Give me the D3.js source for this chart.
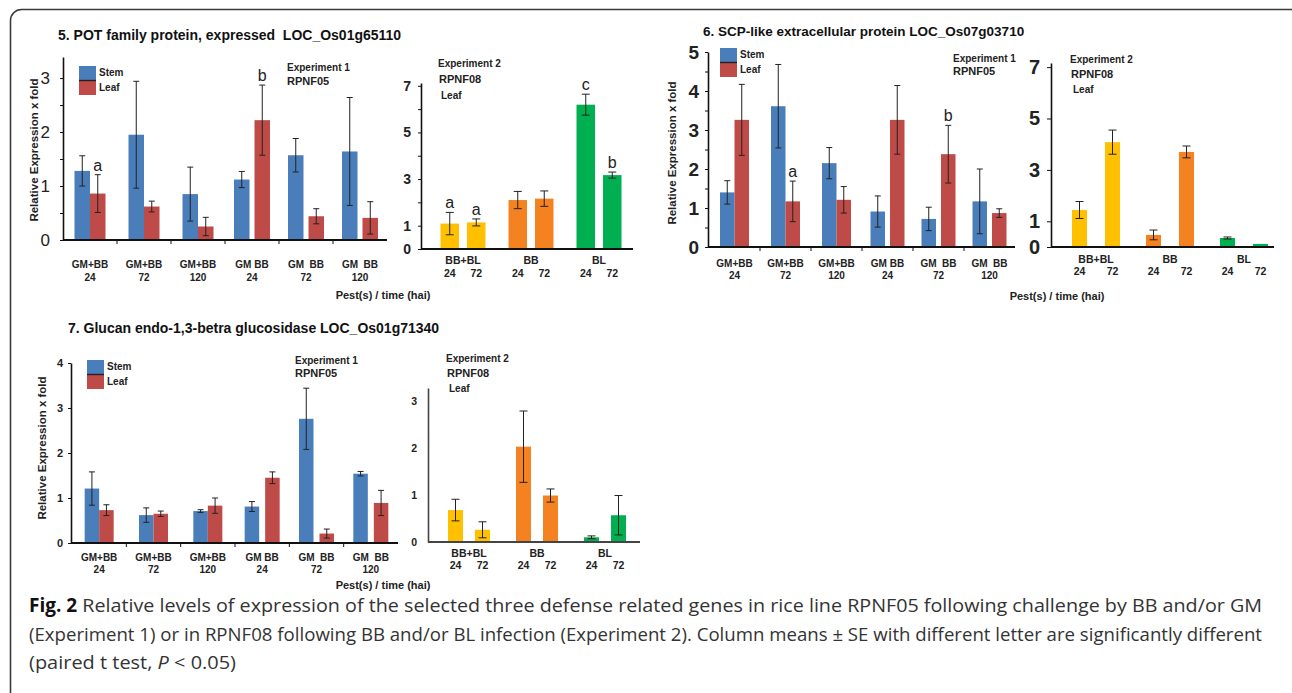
<!DOCTYPE html>
<html>
<head>
<meta charset="utf-8">
<script src="https://cdn.jsdelivr.net/npm/d3@7"></script>
<style>
  body { margin: 0; background: #fff; }
  svg text { font-family: "Liberation Sans", Arial, sans-serif; white-space: pre; }
</style>
</head>
<body>
<svg id="fig" width="1292" height="693"></svg>
<script>
// ---- categories ----
const tissues = ["Stem", "Leaf"];
const exp1Pests = ["GM+BB", "GM+BB", "GM+BB", "GM BB", "GM  BB", "GM  BB"];
const exp1Times = ["24", "72", "120", "24", "72", "120"];
const exp2Pests = ["BB+BL", "BB", "BL"];
const exp2Times = ["24", "72"];

// ---- 5. POT family protein ----
const potStem = [1.28, 1.95, 0.85, 1.12, 1.57, 1.64];
const potStemSE = [0.28, 0.99, 0.50, 0.15, 0.31, 1.00];
const potLeaf = [0.86, 0.62, 0.25, 2.22, 0.44, 0.41];
const potLeafSE = [0.35, 0.10, 0.17, 0.65, 0.14, 0.30];
const potLetters = ["a", "", "", "b", "", ""];
const potExp2 = [[1.09, 1.14], [2.10, 2.16], [6.19, 3.17]];
const potExp2SE = [[0.48, 0.15], [0.37, 0.33], [0.45, 0.13]];
const potExp2Letters = [["a", "a"], ["", ""], ["c", "b"]];

// ---- 6. SCP-like extracellular protein ----
const scpStem = [1.40, 3.61, 2.15, 0.91, 0.72, 1.17];
const scpStemSE = [0.30, 1.07, 0.40, 0.40, 0.30, 0.83];
const scpLeaf = [3.26, 1.17, 1.21, 3.26, 2.38, 0.87];
const scpLeafSE = [0.91, 0.52, 0.34, 0.88, 0.74, 0.11];
const scpLetters = ["", "a", "", "", "b", ""];
const scpExp2 = [[1.44, 4.08], [0.47, 3.70], [0.35, 0.12]];
const scpExp2SE = [[0.33, 0.47], [0.19, 0.23], [0.04, 0]];

// ---- 7. Glucan endo-1,3-beta glucosidase ----
const gluStem = [1.21, 0.62, 0.71, 0.81, 2.76, 1.54];
const gluStemSE = [0.37, 0.16, 0.03, 0.11, 0.68, 0.05];
const gluLeaf = [0.73, 0.65, 0.83, 1.45, 0.21, 0.89];
const gluLeafSE = [0.12, 0.06, 0.17, 0.13, 0.10, 0.28];
const gluExp2 = [[0.68, 0.26], [2.03, 0.99], [0.10, 0.57]];
const gluExp2SE = [[0.23, 0.17], [0.76, 0.14], [0.03, 0.42]];

const tissueColor = {Stem: "#4a7ebb", Leaf: "#be4b48"};
const pestColor = ["#ffc000", "#f58220", "#00b050"];

const svg = d3.select("#fig");

// box round the figure
svg.append("rect")
    .attr("x", 10.5).attr("y", 9.5)
    .attr("width", 1300).attr("height", 700)
    .attr("rx", 11)
    .attr("fill", "none").attr("stroke", "#3a3a3a").attr("stroke-width", 1.6);

function yAxis(g, y, c) {
    const ax = g.append("g")
        .attr("transform", `translate(${c.axisX},0)`)
        .call(d3.axisLeft(y).tickValues(c.ticks).tickSize(c.tickLen).tickSizeOuter(0)
            .tickPadding(c.tickPad).tickFormat(d3.format("d")));
    ax.select(".domain").attr("stroke", c.axisColor || "#111").attr("stroke-width", 1.6);
    ax.selectAll(".tick line").attr("stroke", "#111");
    ax.selectAll("text")
        .attr("font-size", c.tickFont).attr("font-weight", c.tickWeight || "bold")
        .attr("fill", "#222").attr("font-family", "Liberation Sans, Arial, sans-serif");
    if (c.minor) {
        g.append("g")
            .attr("transform", `translate(${c.axisX},0)`)
            .call(d3.axisLeft(y).tickValues(c.minor).tickSize(c.tickLen).tickFormat(""))
            .call(s => s.select(".domain").remove())
            .selectAll("line").attr("stroke", "#111");
    }
}

function errorBars(g, bars, y, cap) {
    const eb = g.append("g").attr("stroke", "#222").attr("stroke-width", 1);
    bars.filter(d => d.se > 0).forEach(d => {
        const cx = d.x + d.w / 2;
        eb.append("line").attr("x1", cx).attr("x2", cx).attr("y1", y(d.v + d.se)).attr("y2", y(d.v - d.se));
        [d.v + d.se, d.v - d.se].forEach(v => {
            eb.append("line").attr("x1", cx - cap).attr("x2", cx + cap).attr("y1", y(v)).attr("y2", y(v));
        });
    });
    g.selectAll(".letter")
        .data(bars.filter(d => d.letter))
        .join("text")
        .attr("x", d => d.x + d.w / 2)
        .attr("y", d => y(d.v + d.se) - 4)
        .attr("text-anchor", "middle")
        .attr("font-size", 16)
        .attr("fill", "#222")
        .text(d => d.letter);
}

function drawExp1(c, stem, stemSE, leaf, leafSE, letters) {
    const g = svg.append("g");
    const idx = d3.range(exp1Pests.length);
    const x = d3.scaleBand().domain(idx).range(c.xRange);
    const y = d3.scaleLinear().domain([0, c.yMax]).range([c.base, c.top]);

    const bars = [];
    idx.forEach(i => {
        const cx = x(i) + x.bandwidth() / 2;
        const gap = exp1Pests[i].includes("+") ? 0 : c.gap;
        bars.push({t: "Stem", v: stem[i], se: stemSE[i], x: cx - gap / 2 - c.bw, w: c.bw, letter: ""});
        bars.push({t: "Leaf", v: leaf[i], se: leafSE[i], x: cx + gap / 2, w: c.bw, letter: letters ? letters[i] : ""});
    });

    g.selectAll("rect.bar")
        .data(bars)
        .join("rect")
        .attr("class", "bar")
        .attr("x", d => d.x).attr("width", d => d.w)
        .attr("y", d => y(d.v)).attr("height", d => y(0) - y(d.v))
        .attr("fill", d => tissueColor[d.t]);

    errorBars(g, bars, y, c.cap);
    yAxis(g, y, c);

    // x baseline with group separators
    g.append("line").attr("x1", c.axisX).attr("x2", c.xRange[1])
        .attr("y1", c.base).attr("y2", c.base).attr("stroke", "#111").attr("stroke-width", 1.8);
    g.selectAll(".sep").data(idx.slice(1)).join("line")
        .attr("x1", d => x(d)).attr("x2", d => x(d))
        .attr("y1", c.base).attr("y2", c.base + 4).attr("stroke", "#111");

    const lab = g.append("g").attr("font-size", 10).attr("font-weight", "bold")
        .attr("fill", "#222").attr("text-anchor", "middle");
    idx.forEach(i => {
        const cx = x(i) + x.bandwidth() / 2;
        lab.append("text").attr("x", cx).attr("y", c.base + c.labDy[0]).text(exp1Pests[i]);
        lab.append("text").attr("x", cx).attr("y", c.base + c.labDy[1]).text(exp1Times[i]);
    });

    // legend
    const lg = g.append("g").attr("transform", `translate(${c.legend[0]},${c.legend[1]})`);
    tissues.forEach((t, i) => {
        lg.append("rect").attr("x", 0).attr("y", i * 15).attr("width", 17).attr("height", 14).attr("fill", tissueColor[t]);
        lg.append("text").attr("x", 20).attr("y", i * 15 + 10).attr("font-size", 10)
            .attr("font-weight", "bold").attr("fill", "#222").text(t);
    });
    lg.append("line").attr("x1", 0).attr("x2", 17).attr("y1", 14.5).attr("y2", 14.5)
        .attr("stroke", "#222").attr("stroke-width", 1.4);

    const ex = g.append("g").attr("font-weight", "bold").attr("fill", "#222");
    ex.append("text").attr("x", c.exp[0]).attr("y", c.exp[1]).attr("font-size", 10).text("Experiment 1");
    ex.append("text").attr("x", c.exp[0]).attr("y", c.exp[1] + c.exp[2]).attr("font-size", 11).text("RPNF05");
}

function drawExp2(c, vals, ses, letters) {
    const g = svg.append("g");
    const x = d3.scaleBand().domain(d3.range(exp2Pests.length)).range(c.xRange);
    const y = d3.scaleLinear().domain([0, c.yMax]).range([c.base, c.top]);

    const bars = [];
    exp2Pests.forEach((p, i) => {
        const cx = x(i) + x.bandwidth() / 2;
        exp2Times.forEach((t, j) => {
            const bx = j === 0 ? cx - c.gap / 2 - c.bw : cx + c.gap / 2;
            bars.push({g: i, t: t, v: vals[i][j], se: ses[i][j], x: bx, w: c.bw,
                letter: letters ? letters[i][j] : ""});
        });
    });

    g.selectAll("rect.bar")
        .data(bars)
        .join("rect")
        .attr("class", "bar")
        .attr("x", d => d.x).attr("width", d => d.w)
        .attr("y", d => y(d.v)).attr("height", d => y(0) - y(d.v))
        .attr("fill", d => pestColor[d.g]);

    errorBars(g, bars, y, c.cap);
    yAxis(g, y, c);

    g.append("line").attr("x1", c.axisX).attr("x2", c.xEnd)
        .attr("y1", c.base).attr("y2", c.base).attr("stroke", c.axisColor || "#111").attr("stroke-width", 1.8);

    const lab = g.append("g").attr("font-size", 10.5).attr("font-weight", "bold")
        .attr("fill", "#222").attr("text-anchor", "middle");
    exp2Pests.forEach((p, i) => {
        lab.append("text").attr("x", x(i) + x.bandwidth() / 2).attr("y", c.base + c.labDy[0]).text(p);
    });
    lab.selectAll(".time").data(bars).join("text")
        .attr("x", d => d.x + d.w / 2).attr("y", c.base + c.labDy[1]).text(d => d.t);

    const ex = g.append("g").attr("font-weight", "bold").attr("fill", "#222");
    ex.append("text").attr("x", c.exp[0]).attr("y", c.exp[1]).attr("font-size", 10).text("Experiment 2");
    ex.append("text").attr("x", c.exp[0] + 1).attr("y", c.exp[1] + c.exp[2]).attr("font-size", 11).text("RPNF08");
    ex.append("text").attr("x", c.exp[0] + 3).attr("y", c.exp[1] + 2 * c.exp[2]).attr("font-size", 10).text("Leaf");
}

function titles(t, x, y, size) {
    svg.append("text").attr("x", x).attr("y", y).attr("font-size", size).attr("font-weight", "bold")
        .attr("fill", "#111").text(t);
}
function yLabel(x, y) {
    svg.append("text").attr("transform", `translate(${x},${y}) rotate(-90)`)
        .attr("text-anchor", "middle").attr("font-size", 11.5).attr("font-weight", "bold")
        .attr("fill", "#222").text("Relative Expression x fold");
}
function xTitle(x, y) {
    svg.append("text").attr("x", x).attr("y", y).attr("text-anchor", "middle")
        .attr("font-size", 11).attr("font-weight", "bold").attr("fill", "#222").text("Pest(s) / time (hai)");
}

// ---- panel 5 ----
titles("5. POT family protein, expressed  LOC_Os01g65110", 58, 40, 14);
yLabel(38, 150);
xTitle(383, 299);
drawExp1({xRange: [63, 387], axisX: 63, base: 240, top: 57, yMax: 3.39, ticks: [0, 1, 2, 3],
    minor: [0.5, 1.5, 2.5], tickLen: 3, tickPad: 10, tickFont: 17, tickWeight: "normal",
    bw: 15.5, gap: 5, cap: 3, labDy: [28, 41], legend: [79, 66], exp: [287, 71, 14]},
    potStem, potStemSE, potLeaf, potLeafSE, potLetters);
drawExp2({xRange: [429, 633], xEnd: 633, axisX: 421, base: 249, top: 83, yMax: 7.12,
    ticks: [0, 1, 3, 5, 7], minor: [2, 4, 6], tickLen: 3, tickPad: 7, tickFont: 14,
    bw: 18.5, gap: 8, cap: 4, labDy: [15, 28], exp: [438, 67, 16]},
    potExp2, potExp2SE, potExp2Letters);

// ---- panel 6 ----
titles("6. SCP-like extracellular protein LOC_Os07g03710", 703, 36, 13.5);
yLabel(676, 153);
xTitle(1057, 300);
drawExp1({xRange: [709, 1015], axisX: 708, base: 247, top: 52, yMax: 5, ticks: [0, 1, 2, 3, 4, 5],
    minor: [0.5, 1.5, 2.5, 3.5, 4.5], tickLen: 3, tickPad: 6, tickFont: 19,
    bw: 14.5, gap: 5, cap: 3, labDy: [20, 32], legend: [720, 48], exp: [953, 62, 13]},
    scpStem, scpStemSE, scpLeaf, scpLeafSE, scpLetters);
drawExp2({xRange: [1059, 1281], xEnd: 1274, axisX: 1051, base: 247, top: 63, yMax: 7.16,
    ticks: [0, 1, 3, 5, 7], tickLen: 4, tickPad: 7, tickFont: 20,
    bw: 15, gap: 18, cap: 4, labDy: [16, 28], exp: [1070, 63, 15]},
    scpExp2, scpExp2SE, null);

// ---- panel 7 ----
titles("7. Glucan endo-1,3-betra glucosidase LOC_Os01g71340", 68, 333, 14);
yLabel(46, 448);
xTitle(383, 589);
drawExp1({xRange: [72, 398], axisX: 71, base: 543, top: 363, yMax: 4, ticks: [0, 1, 2, 3, 4],
    tickLen: 3, tickPad: 5, tickFont: 11,
    bw: 14.5, gap: 6, cap: 3, labDy: [18, 30], legend: [87, 360], exp: [295, 364, 13]},
    gluStem, gluStemSE, gluLeaf, gluLeafSE, null);
drawExp2({xRange: [435, 639], xEnd: 640, axisX: 428, base: 542, top: 388, yMax: 3.28,
    ticks: [0, 1, 2, 3], tickLen: 0, tickPad: 11, tickFont: 10.5, axisColor: "#444",
    bw: 15, gap: 12, cap: 4, labDy: [15, 27], exp: [446, 362, 15]},
    gluExp2, gluExp2SE, null);

// ---- caption ----
const capFont = "'Open Sans', 'Noto Sans', sans-serif";
const captionLines = [
    " Relative levels of expression of the selected three defense related genes in rice line RPNF05 following challenge by BB and/or GM",
    "(Experiment 1) or in RPNF08 following BB and/or BL infection (Experiment 2). Column means \u00b1 SE with different letter are significantly different",
    "(paired t test, "
];
const capX = 29;
const capEnds = [1262, 1262, 236];
const capY = [612, 641, 669];
const cap = svg.append("g").attr("fill", "#333").attr("font-size", 19);
const figLab = cap.append("text").attr("x", capX).attr("y", capY[0]).attr("font-weight", "bold")
    .style("font-family", capFont).attr("fill", "#111").text("Fig. 2");
const fw = figLab.node().getComputedTextLength();
cap.append("text").attr("x", capX + fw).attr("y", capY[0]).style("font-family", capFont)
    .attr("textLength", capEnds[0] - capX - fw).attr("lengthAdjust", "spacingAndGlyphs").text(captionLines[0]);
cap.append("text").attr("x", capX).attr("y", capY[1]).style("font-family", capFont)
    .attr("textLength", capEnds[1] - capX).attr("lengthAdjust", "spacingAndGlyphs").text(captionLines[1]);
const l3 = cap.append("text").attr("x", capX).attr("y", capY[2]).style("font-family", capFont)
    .attr("textLength", capEnds[2] - capX).attr("lengthAdjust", "spacingAndGlyphs");
l3.append("tspan").text(captionLines[2]);
l3.append("tspan").attr("font-style", "italic").text("P");
l3.append("tspan").text(" < 0.05)");
</script>
</body>
</html>
